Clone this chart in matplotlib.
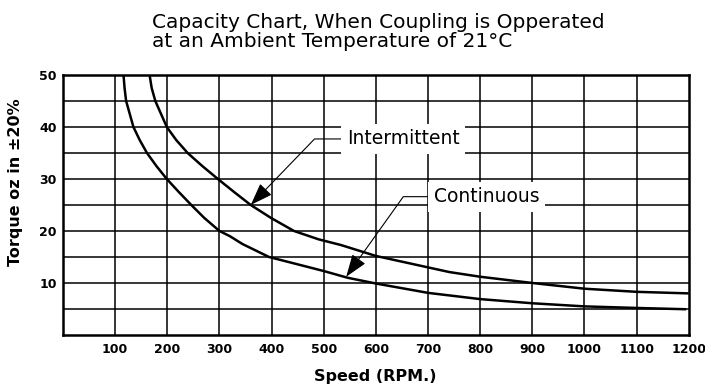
import matplotlib
matplotlib.use("Agg")
import matplotlib.pyplot as plt

plt.rcParams['font.family'] = ['DejaVu Sans']

# speed (RPM) / torque (oz in)
speed_intermittent = [166, 170, 177, 188, 199, 217, 239, 267, 297, 328, 360,
                      399, 443, 490, 533, 600, 700, 741, 800, 900, 1000, 1100,
                      1200]
torque_intermittent = [50, 47.5, 45, 42.5, 40, 37.5, 35, 32.5, 30, 27.5, 25,
                       22.5, 20, 18.4, 17.3, 15.2, 13.0, 12.1, 11.2, 10.0, 8.9,
                       8.3, 8.0]

speed_continuous = [116, 118, 121, 128, 135, 147, 161, 179, 199, 222, 246,
                    271, 300, 320, 344, 395, 500, 546, 600, 700, 800, 900,
                    1000, 1100, 1195]
torque_continuous = [50, 47.5, 45, 42.5, 40, 37.5, 35, 32.5, 30, 27.5, 25,
                     22.5, 20, 19.0, 17.5, 15, 12.3, 11.0, 9.9, 8.1, 6.9, 6.1,
                     5.5, 5.2, 4.95]

x_ticks = list(range(100, 1300, 100))
y_ticks = [10, 20, 30, 40, 50]

fig = plt.figure(figsize=(7.05, 3.87), dpi=100)
ax = fig.add_axes([0.0894, 0.1344, 0.8876, 0.6718])

ax.set_xlim(0, 1200)
ax.set_ylim(0, 50)

# grid every 100 RPM and every 5 oz in
for gx in range(100, 1200, 100):
    ax.axvline(gx, color='black', lw=1.1, zorder=1)
for gy in range(5, 50, 5):
    ax.axhline(gy, color='black', lw=1.1, zorder=1)

ax.plot(speed_intermittent, torque_intermittent, color='black', lw=1.8,
        solid_joinstyle='round', solid_capstyle='butt', zorder=3)
ax.plot(speed_continuous, torque_continuous, color='black', lw=1.8,
        solid_joinstyle='round', solid_capstyle='butt', zorder=3)

for s in ax.spines.values():
    s.set_linewidth(1.8)

ax.set_xticks(x_ticks)
ax.set_yticks(y_ticks)
ax.tick_params(axis='x', length=0, pad=5.5, labelsize=9)
ax.tick_params(axis='y', length=0, pad=4.5, labelsize=9)
for lab in ax.get_xticklabels() + ax.get_yticklabels():
    lab.set_fontweight('bold')

fig.text(375 / 705, 1 - 376 / 387, 'Speed (RPM.)', fontsize=11.5,
         fontweight='bold', ha='center', va='center')
fig.text(16 / 705, 1 - 182 / 387, 'Torque oz in \u00b120%', fontsize=11.5,
         fontweight='bold', ha='center', va='center', rotation=90)

arrow = dict(arrowstyle='-|>,head_length=0.7,head_width=0.25', color='black',
             lw=0.8, mutation_scale=20, shrinkA=0, shrinkB=0,
             connectionstyle='angle,angleA=0,angleB=46,rad=0')
box = dict(boxstyle='square,pad=0.3', fc='white', ec='none')

ax.annotate('Intermittent', xy=(360, 25), xytext=(544, 37.7),
            fontsize=13.5, va='center', ha='left', bbox=box,
            arrowprops=arrow, zorder=5)
arrow2 = dict(arrow, connectionstyle='angle,angleA=0,angleB=54.5,rad=0')
ax.annotate('Continuous', xy=(543, 11.2), xytext=(711, 26.6),
            fontsize=13.5, va='center', ha='left', bbox=box,
            arrowprops=arrow2, zorder=5)

fig.text(0.2156, 1 - 28 / 387, 'Capacity Chart, When Coupling is Opperated',
         fontsize=14.5, ha='left', va='baseline')
fig.text(0.2156, 1 - 47 / 387, 'at an Ambient Temperature of 21\u00b0C',
         fontsize=14.5, ha='left', va='baseline')

fig.savefig('out.png', dpi=100)
